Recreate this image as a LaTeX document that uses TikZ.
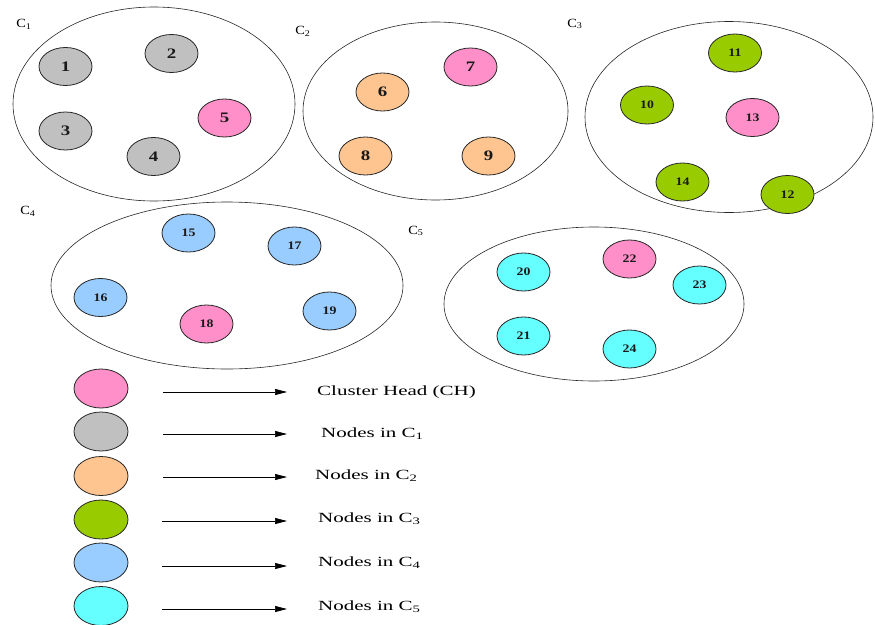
\documentclass[tikz,border=0pt]{standalone}
\usepackage{fontspec}
\setmainfont{Liberation Serif}
\usetikzlibrary{shapes.geometric,arrows.meta}
\definecolor{chpink}{HTML}{FF8FC8}
\definecolor{cgray}{HTML}{C0C0C0}
\definecolor{corange}{HTML}{FFC590}
\definecolor{cgreen}{HTML}{99CC00}
\definecolor{cblue}{HTML}{99CCFF}
\definecolor{ccyan}{HTML}{66FFFF}
\newcommand\hsc[2][1.3]{\scalebox{#1}[1]{#2}}
\begin{document}
\begin{tikzpicture}[x=1pt,y=-1pt,
  cluster/.style={draw=black!85, line width=0.6pt, ellipse, inner sep=0pt},
  sn/.style={draw=black!85, line width=0.8pt, ellipse, minimum width=53pt, minimum height=38pt, inner sep=0pt, text=black!90, font=\fontsize{14.5}{15}\selectfont\bfseries},
  snn/.style={sn, font=\fontsize{11.5}{12}\selectfont\bfseries},
  clab/.style={inner sep=0pt, font=\fontsize{12.5}{13}\selectfont},
  leg/.style={draw=black!85, line width=0.8pt, ellipse, minimum width=54pt, minimum height=39pt, inner sep=0pt},
  legtxt/.style={anchor=west, inner sep=0pt, font=\fontsize{14}{15}\selectfont},
  legarr/.style={-{Triangle[length=12pt,width=6pt]}, line width=0.7pt}
]
\useasboundingbox (0,0) rectangle (875,624);

% clusters
\node[cluster, minimum width=282pt, minimum height=194pt] (c1) at (154,104) {};
\node[cluster, minimum width=265pt, minimum height=178pt] (c2) at (435.5,111) {};
\node[cluster, minimum width=288pt, minimum height=191pt] (c3) at (729,117) {};
\node[cluster, minimum width=352pt, minimum height=167pt] (c4) at (227,285.5) {};
\node[cluster, minimum width=300pt, minimum height=154pt] (c5) at (594,304) {};

% cluster labels
\node[clab] (l1) at (24,24) {\hsc[1.15]{C\textsubscript{1}}};
\node[clab] (l2) at (303,31) {\hsc[1.15]{C\textsubscript{2}}};
\node[clab] (l3) at (575,24) {\hsc[1.15]{C\textsubscript{3}}};
\node[clab] (l4) at (28,211) {\hsc[1.15]{C\textsubscript{4}}};
\node[clab] (l5) at (416,231) {\hsc[1.15]{C\textsubscript{5}}};

% C1
\node[sn, fill=cgray] (n1) at (65.5,66.5) {\hsc{1}};
\node[sn, fill=cgray] (n2) at (171.5,53.5) {\hsc{2}};
\node[sn, fill=cgray] (n3) at (65.5,131) {\hsc{3}};
\node[sn, fill=cgray] (n4) at (153.5,156.5) {\hsc{4}};
\node[sn, fill=chpink] (n5) at (224.5,118) {\hsc{5}};
% C2
\node[sn, fill=corange] (n6) at (382.5,92) {\hsc{6}};
\node[sn, fill=chpink] (n7) at (470.5,67) {\hsc{7}};
\node[sn, fill=corange] (n8) at (365.5,156) {\hsc{8}};
\node[sn, fill=corange] (n9) at (488.5,156) {\hsc{9}};
% C3
\node[snn, fill=cgreen] (n10) at (647,105) {\hsc[1.2]{10}};
\node[snn, fill=cgreen] (n11) at (735,53) {\hsc[1.2]{11}};
\node[snn, fill=cgreen] (n12) at (787.5,194.5) {\hsc[1.2]{12}};
\node[snn, fill=chpink] (n13) at (752.5,117.5) {\hsc[1.2]{13}};
\node[snn, fill=cgreen] (n14) at (682.5,182) {\hsc[1.2]{14}};
% C4
\node[snn, fill=cblue] (n15) at (188.5,233) {\hsc[1.2]{15}};
\node[snn, fill=cblue] (n16) at (100.5,297.5) {\hsc[1.2]{16}};
\node[snn, fill=cblue] (n17) at (294.5,246) {\hsc[1.2]{17}};
\node[snn, fill=chpink] (n18) at (206.5,324) {\hsc[1.2]{18}};
\node[snn, fill=cblue] (n19) at (329.5,311) {\hsc[1.2]{19}};
% C5
\node[snn, fill=ccyan] (n20) at (523.5,272) {\hsc[1.2]{20}};
\node[snn, fill=ccyan] (n21) at (523.5,336) {\hsc[1.2]{21}};
\node[snn, fill=chpink] (n22) at (629.5,259) {\hsc[1.2]{22}};
\node[snn, fill=ccyan] (n23) at (699.5,285) {\hsc[1.2]{23}};
\node[snn, fill=ccyan] (n24) at (629.5,349) {\hsc[1.2]{24}};

% legend
\node[leg, fill=chpink] (g1) at (101,388.5) {};
\node[leg, fill=cgray] (g2) at (101,431.5) {};
\node[leg, fill=corange] (g3) at (101,476) {};
\node[leg, fill=cgreen] (g4) at (101,519.5) {};
\node[leg, fill=cblue] (g5) at (101,562.5) {};
\node[leg, fill=ccyan] (g6) at (101,606) {};

\coordinate (a1) at (163,392); \coordinate (b1) at (287,392);
\coordinate (a2) at (163,434); \coordinate (b2) at (287,434);
\coordinate (a3) at (163,477); \coordinate (b3) at (287,477);
\coordinate (a4) at (162,521); \coordinate (b4) at (287,521);
\coordinate (a5) at (162,566); \coordinate (b5) at (287,566);
\coordinate (a6) at (162,609); \coordinate (b6) at (287,609);
\foreach \i in {1,...,6} { \draw[legarr] (a\i) -- (b\i); }

\node[legtxt] (t1) at (317,392) {\hsc[1.5]{Cluster Head (CH)}};
\node[legtxt] (t2) at (321,434) {\hsc[1.5]{Nodes in C\textsubscript{1}}};
\node[legtxt] (t3) at (315,476) {\hsc[1.5]{Nodes in C\textsubscript{2}}};
\node[legtxt] (t4) at (318,519) {\hsc[1.5]{Nodes in C\textsubscript{3}}};
\node[legtxt] (t5) at (318,563) {\hsc[1.5]{Nodes in C\textsubscript{4}}};
\node[legtxt] (t6) at (318,607) {\hsc[1.5]{Nodes in C\textsubscript{5}}};
\end{tikzpicture}
\end{document}
